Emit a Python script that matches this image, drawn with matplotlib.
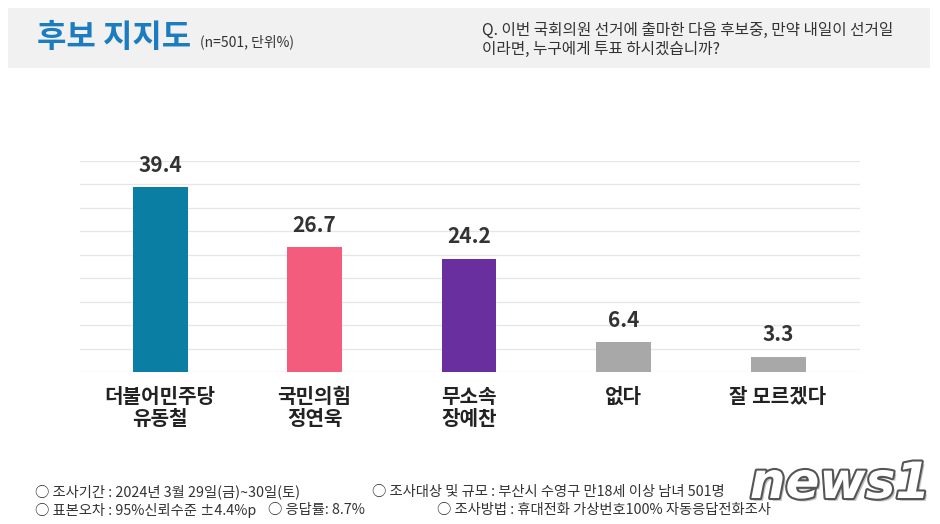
import matplotlib
matplotlib.use("Agg")
import matplotlib.pyplot as plt
import matplotlib.patheffects as pe
from matplotlib.patches import Rectangle

plt.rcParams['font.family'] = ['Noto Sans CJK KR', 'DejaVu Sans']

categories = ["더불어민주당\n유동철", "국민의힘\n정연욱", "무소속\n장예찬", "없다", "잘 모르겠다"]
values = [39.4, 26.7, 24.2, 6.4, 3.3]
colors = ["#0b7ea3", "#f45c7d", "#6a2f9f", "#a8a8a8", "#a8a8a8"]
grid_ticks = [0, 5, 10, 15, 20, 25, 30, 35, 40, 45]

W, H = 940, 524
fig = plt.figure(figsize=(W / 100, H / 100), dpi=100)
fig.patch.set_facecolor("white")

# header band
fig.patches.append(Rectangle((8 / W, 1 - 68 / H), 922 / W, 60 / H, transform=fig.transFigure,
                             facecolor="#f1f1f1", edgecolor="none", zorder=0))
fig.text(37 / W, 1 - 38 / H, "후보 지지도", fontsize=23, fontweight="bold", color="#1b7cc0",
         va="center", ha="left")
fig.text(200 / W, 1 - 42 / H, "(n=501, 단위%)", fontsize=10, color="#333333", va="center", ha="left")
fig.text(482 / W, 1 - 30 / H, "Q. 이번 국회의원 선거에 출마한 다음 후보중, 만약 내일이 선거일",
         fontsize=11.3, color="#333333", va="center", ha="left")
fig.text(482 / W, 1 - 49 / H, "이라면, 누구에게 투표 하시겠습니까?",
         fontsize=11.3, color="#333333", va="center", ha="left")

# chart axes
left, right = 80, 860
top, bottom = 161, 372
spacing = 154.5
ax = fig.add_axes([left / W, 1 - bottom / H, (right - left) / W, (bottom - top) / H])
x = list(range(len(categories)))
ax.set_xlim(-80 / spacing, 4 + 82 / spacing)
ax.set_ylim(0, 45)
for t in grid_ticks:
    ax.axhline(t, color="#e6e6e6", linewidth=0.9, zorder=0)
ax.bar(x, values, width=55 / spacing, color=colors, zorder=2)
for xi, v in zip(x, values):
    ax.text(xi, v + 2.4, f"{v}", ha="center", va="bottom", fontsize=15, fontweight="bold",
            color="#333333")
for s in ax.spines.values():
    s.set_visible(False)
ax.set_yticks([])
ax.set_xticks(x)
ax.set_xticklabels(categories, fontsize=14.5, fontweight="bold", color="#222222", linespacing=1.05)
ax.tick_params(axis="x", length=0, pad=10)
ax.patch.set_alpha(0)

# footer
fc = "#333333"
fs = 10.3
fig.text(35 / W, 1 - 492 / H, "○ 조사기간 : 2024년 3월 29일(금)~30일(토)", fontsize=fs, color=fc, va="center")
fig.text(372 / W, 1 - 492 / H, "○ 조사대상 및 규모 : 부산시 수영구 만18세 이상 남녀 501명", fontsize=fs, color=fc, va="center")
fig.text(35 / W, 1 - 510 / H, "○ 표본오차 : 95%신뢰수준 ±4.4%p", fontsize=fs, color=fc, va="center")
fig.text(268 / W, 1 - 510 / H, "○ 응답률: 8.7%", fontsize=fs, color=fc, va="center")
fig.text(437 / W, 1 - 510 / H, "○ 조사방법 : 휴대전화 가상번호100% 자동응답전화조사", fontsize=fs, color=fc, va="center")

# watermark logo
fig.text(840 / W, 1 - 484 / H, "news1", fontsize=36, fontstyle="italic", fontweight="bold",
         color="white", ha="center", va="center", family="DejaVu Sans",
         path_effects=[pe.withSimplePatchShadow(offset=(2, -2), shadow_rgbFace="#999999", alpha=0.6),
                       pe.withStroke(linewidth=3, foreground="#555555")])

fig.savefig("out.png", dpi=100)
